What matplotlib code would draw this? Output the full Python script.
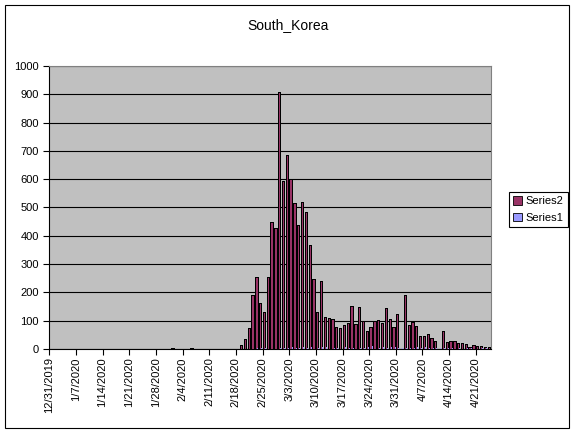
import matplotlib
matplotlib.use("Agg")
import matplotlib.pyplot as plt
import matplotlib.patches as mpatches
import numpy as np
import pandas as pd

plt.rcParams['font.family'] = ['Liberation Sans', 'DejaVu Sans']

TITLE = "South_Korea"
dates = pd.date_range("2019-12-31", "2020-04-24", freq="D")

# daily values, one per day from 12/31/2019
series2 = ([0] * 32 + [4] + [0] * 4 + [4] + [0] * 12 +
           [15, 34, 75, 190, 256, 161, 130, 253, 449, 427,
            909, 595, 686, 600, 516, 438, 518, 483, 367, 248,
            131, 242, 114, 110, 107, 76, 74, 86, 93, 152,
            87, 147, 98, 64, 76, 100, 104, 91, 146, 105,
            78, 125, 0, 190, 86, 94, 83, 47, 47, 53,
            39, 27, 0, 62, 25, 27, 27, 22, 22, 18,
            8, 13, 9, 11, 8, 6])
series1 = ([0] * 51 +
           [1, 1, 0, 3, 2, 2, 1, 0, 1,
            3, 3, 4, 6, 4, 3, 6, 2, 6, 1,
            3, 6, 6, 0, 5, 3, 0, 6, 3, 3,
            8, 2, 2, 7, 9, 6, 5, 8, 5, 8,
            6, 4, 3, 4, 5, 3, 6, 3, 6, 4,
            4, 4, 3, 3, 3, 3, 4, 4, 1, 2,
            2, 1, 1, 2, 2, 0])
series_names = ["Series2", "Series1"]
series_colors = ["#993366", "#9999FF"]

fig = plt.figure(figsize=(5.77, 4.33), dpi=100)
ax = fig.add_axes([0.0854, 0.194, 0.7656, 0.6536])

x = np.arange(len(dates))
ax.bar(x + 0.38, series2, width=0.6, color=series_colors[0],
       edgecolor='black', linewidth=0.7, zorder=3, antialiased=False)
ax.bar(x + 0.8, series1, width=0.25, color=series_colors[1],
       edgecolor='none', linewidth=0, zorder=3, antialiased=False)

ax.set_facecolor('#C0C0C0')
ax.set_xlim(0, len(dates))
ax.set_ylim(0, 1000)
ax.set_yticks(range(0, 1001, 100))
ax.yaxis.grid(True, color='black', linewidth=0.8, zorder=1)
ax.set_axisbelow(True)

tick_pos = x[::7]
tick_labels = [f"{d.month}/{d.day}/{d.year}" for d in dates[::7]]
ax.set_xticks(tick_pos)
ax.set_xticklabels(tick_labels, rotation=90, fontsize=8)
ax.tick_params(axis='y', labelsize=8, direction='out', length=4, width=0.8)
ax.tick_params(axis='x', direction='out', length=4, width=0.8, pad=2)

for s in ['left', 'bottom']:
    ax.spines[s].set_color('black')
    ax.spines[s].set_linewidth(0.8)
for s in ['top', 'right']:
    ax.spines[s].set_color('#808080')
    ax.spines[s].set_linewidth(0.8)

fig.text(0.5, 0.942, TITLE, ha='center', va='center', fontsize=10)

handles = [mpatches.Patch(facecolor=c, edgecolor='black', linewidth=0.6)
           for c in series_colors]
leg = fig.legend(handles, series_names, loc='center',
                 bbox_to_anchor=(0.933, 0.516), fontsize=8,
                 handlelength=0.8, handleheight=0.8, handletextpad=0.3,
                 borderpad=0.4, labelspacing=0.6, fancybox=False,
                 framealpha=1, edgecolor='black')
leg.get_frame().set_linewidth(0.8)

fig.patches.append(mpatches.Rectangle((5 / 577, 5 / 433), 564 / 577, 423 / 433,
                                      transform=fig.transFigure, fill=False,
                                      edgecolor='black', linewidth=0.8))

fig.savefig("out.png", dpi=100)
